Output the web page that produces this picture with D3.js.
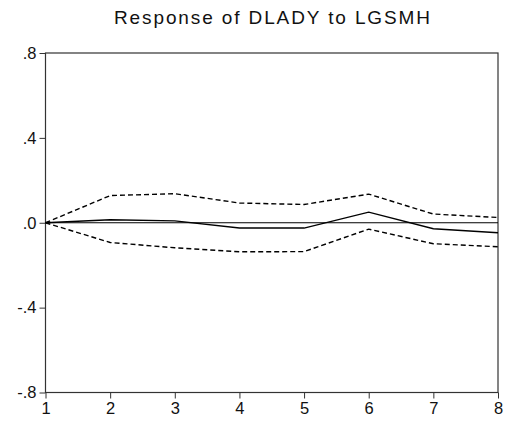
<!DOCTYPE html>
<html><head><meta charset="utf-8">
<script src="https://cdn.jsdelivr.net/npm/d3@7"></script>
<style>body{margin:0;background:#fff}svg{display:block}text{font-family:"Liberation Sans",Arial,sans-serif}</style>
</head><body><svg id="c" width="513" height="428"></svg>
<script>
const periods = [1,2,3,4,5,6,7,8];
const response = [0, 0.014, 0.009, -0.025, -0.025, 0.050, -0.028, -0.047];
const upperBand = [0, 0.128, 0.137, 0.093, 0.086, 0.135, 0.041, 0.025];
const lowerBand = [0, -0.093, -0.118, -0.137, -0.136, -0.030, -0.099, -0.113];
const yTicks = [0.8, 0.4, 0.0, -0.4, -0.8];
const yTickLabels = [".8", ".4", ".0", "-.4", "-.8"];
const title = "Response of DLADY to LGSMH";

const svg = d3.select("#c");
const L = 45.5, R = 498, T = 53, B = 392.5;
const x = d3.scaleLinear().domain([1,8]).range([L,R]);
const y = d3.scaleLinear().domain([-0.8,0.8]).range([B,T]);

svg.append("text").attr("x",114).attr("y",24).attr("text-anchor","start")
  .attr("font-size",19).attr("fill","#111")
  .attr("textLength",316).attr("lengthAdjust","spacing").text(title);

// frame
svg.append("rect").attr("x",L).attr("y",T).attr("width",R-L).attr("height",B-T)
  .attr("fill","none").attr("stroke","#333").attr("stroke-width",1.2);

// zero line
svg.append("line").attr("x1",L).attr("x2",R).attr("y1",y(0)).attr("y2",y(0))
  .attr("stroke","#000").attr("stroke-width",1);

const yAxis = d3.axisLeft(y).tickValues(yTicks).tickSize(6).tickPadding(3)
  .tickFormat((d,i)=>yTickLabels[i]);
const gy = svg.append("g").attr("transform",`translate(${L},0)`).call(yAxis);
const xAxis = d3.axisBottom(x).tickValues(periods).tickSize(6).tickPadding(4).tickFormat(d3.format("d"));
const gx = svg.append("g").attr("transform",`translate(0,${B})`).call(xAxis);
[gy,gx].forEach(g=>{
  g.select(".domain").remove();
  g.selectAll("line").attr("stroke","#333");
  g.selectAll("text").attr("font-size",16.5).attr("fill","#111").attr("font-family","Liberation Sans, Arial, sans-serif");
});

const line = d3.line().x((d,i)=>x(periods[i])).y(d=>y(d));
svg.append("path").attr("d",line(upperBand)).attr("fill","none").attr("stroke","#000")
  .attr("stroke-width",1.4).attr("stroke-dasharray","5,3");
svg.append("path").attr("d",line(lowerBand)).attr("fill","none").attr("stroke","#000")
  .attr("stroke-width",1.4).attr("stroke-dasharray","5,3");
svg.append("path").attr("d",line(response)).attr("fill","none").attr("stroke","#000")
  .attr("stroke-width",1.4);
</script></body></html>
